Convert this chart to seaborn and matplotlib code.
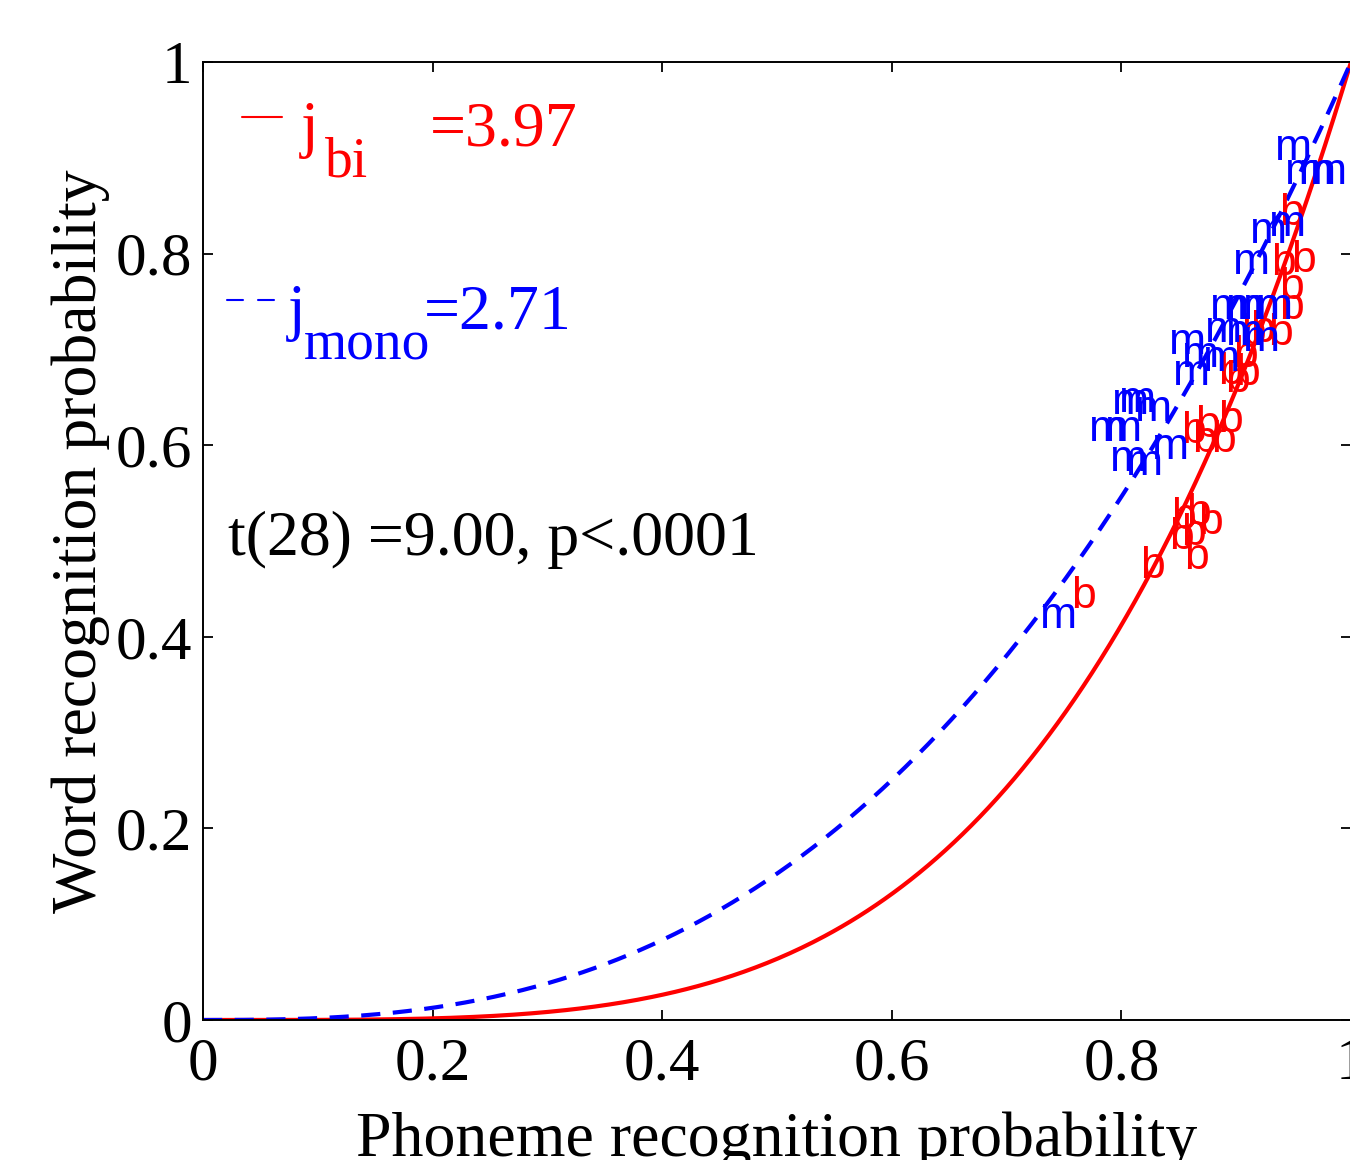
import numpy as np
import pandas as pd
import matplotlib
matplotlib.use("Agg")
import matplotlib.pyplot as plt
import seaborn as sns

# fitted exponents
j_bi = 3.97
j_mono = 2.71

# per-listener scores (phoneme prob, word prob)
bi_x = [0.767, 0.827, 0.854, 0.867, 0.878, 0.852, 0.863, 0.865, 0.863, 0.875,
        0.895, 0.889, 0.872, 0.895, 0.910, 0.901, 0.915, 0.939, 0.908, 0.948,
        0.923, 0.948, 0.941, 0.959, 0.948]
bi_y = [0.442, 0.473, 0.525, 0.529, 0.519, 0.504, 0.508, 0.483, 0.614, 0.621,
        0.626, 0.605, 0.605, 0.676, 0.675, 0.668, 0.717, 0.717, 0.694, 0.744,
        0.720, 0.765, 0.790, 0.793, 0.842]

mono_x = [0.745, 0.788, 0.802, 0.814, 0.828, 0.806, 0.820, 0.843, 0.858, 0.869,
          0.861, 0.887, 0.889, 0.907, 0.922, 0.893, 0.907, 0.922, 0.933, 0.913,
          0.928, 0.945, 0.950, 0.959, 0.971, 0.980, 0.808]
mono_y = [0.421, 0.616, 0.616, 0.647, 0.637, 0.585, 0.581, 0.598, 0.707, 0.694,
          0.675, 0.689, 0.720, 0.717, 0.710, 0.744, 0.744, 0.744, 0.744, 0.791,
          0.823, 0.830, 0.910, 0.885, 0.885, 0.885, 0.645]

ticks = [0, 0.2, 0.4, 0.6, 0.8, 1]
tick_labels = ["0", "0.2", "0.4", "0.6", "0.8", "1"]

sns.set_theme(style="ticks")
plt.rcParams['font.family'] = ['Liberation Serif', 'DejaVu Serif']
plt.rcParams['text.color'] = 'black'
plt.rcParams['axes.labelcolor'] = 'black'

fig = plt.figure(figsize=(13.5, 11.6), dpi=100)
ax = fig.add_axes([203 / 1350, 140 / 1160, 1148 / 1350, 958 / 1160])

p = np.linspace(0, 1, 400)
curves = pd.DataFrame({
    "p": np.concatenate([p, p]),
    "w": np.concatenate([p ** j_bi, p ** j_mono]),
    "group": ["bi"] * len(p) + ["mono"] * len(p),
})
sns.lineplot(data=curves, x="p", y="w", hue="group", style="group",
             palette={"bi": "red", "mono": "blue"},
             dashes={"bi": "", "mono": (4.6, 3.0)},
             lw=3.0, legend=False, ax=ax, zorder=2)

for x, y in zip(bi_x, bi_y):
    ax.text(x, y, "b", color="red", fontsize=32, family="Liberation Sans",
            ha="center", va="center", zorder=3)
for x, y in zip(mono_x, mono_y):
    ax.text(x, y, "m", color="blue", fontsize=32, family="Liberation Sans",
            ha="center", va="center", zorder=4)

ax.set_xlim(0, 1)
ax.set_ylim(0, 1)
ax.set_xticks(ticks)
ax.set_xticklabels(tick_labels)
ax.set_yticks(ticks)
ax.set_yticklabels(tick_labels)
ax.tick_params(direction="in", length=7, width=1.3, top=True, right=True,
               labelsize=44, colors="black")
ax.tick_params(axis="x", pad=12)
ax.tick_params(axis="y", pad=8)
for s in ax.spines.values():
    s.set_linewidth(1.4)
    s.set_color("black")

ax.set_xlabel("Phoneme recognition probability", fontsize=46, labelpad=14, color="black")
ax.set_ylabel("Word recognition probability", fontsize=46, labelpad=4, color="black")

# legend-like annotations
ax.plot([0.034, 0.069], [0.943, 0.943], color="red", lw=1.5, transform=ax.transAxes)
ax.plot([0.021, 0.035], [0.752, 0.752], color="blue", lw=1.5, transform=ax.transAxes)
ax.plot([0.048, 0.062], [0.752, 0.752], color="blue", lw=1.5, transform=ax.transAxes)

ax.text(0.085, 0.913, "j", color="red", fontsize=46, transform=ax.transAxes, va="baseline")
ax.text(0.106, 0.881, "bi", color="red", fontsize=40, transform=ax.transAxes, va="baseline")
ax.text(0.198, 0.913, "=%.2f" % j_bi, color="red", fontsize=46, transform=ax.transAxes, va="baseline")

ax.text(0.074, 0.722, "j", color="blue", fontsize=46, transform=ax.transAxes, va="baseline")
ax.text(0.088, 0.689, "mono", color="blue", fontsize=40, transform=ax.transAxes, va="baseline")
ax.text(0.192, 0.722, "=%.2f" % j_mono, color="blue", fontsize=46, transform=ax.transAxes, va="baseline")

ax.text(0.022, 0.485, "t(28) =9.00, p<.0001", color="black", fontsize=46,
        transform=ax.transAxes, va="baseline")

fig.savefig("out.png", dpi=100)
